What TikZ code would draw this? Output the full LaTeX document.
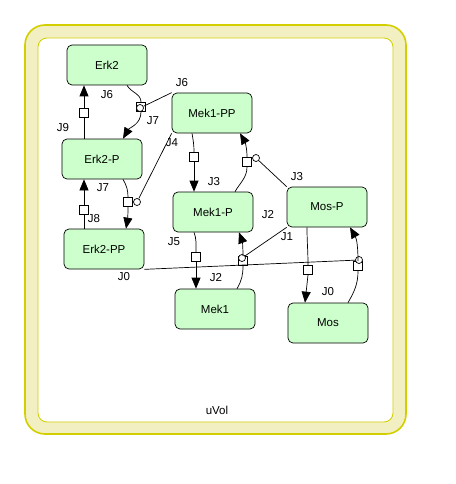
\documentclass[tikz,border=0pt]{standalone}
\usepackage{fontspec}
\setsansfont{Liberation Sans}
\usetikzlibrary{arrows.meta}
\definecolor{specfill}{HTML}{CCFFCC}
\definecolor{volfill}{HTML}{F2F0C2}
\definecolor{voldraw}{HTML}{D2CE00}
\begin{document}
\begin{tikzpicture}[x=1pt, y=-1pt, font=\sffamily\fontsize{11.5}{13}\selectfont,
	species/.style={draw, line width=.7pt, fill=specfill, rounded corners=5pt, minimum width=80pt, minimum height=40pt, inner sep=0pt},
	react/.style={draw, line width=.7pt, fill=white, minimum size=9pt, inner sep=0pt},
	modif/.style={draw, line width=.7pt, fill=white, circle, minimum size=7pt, inner sep=0pt},
	flow/.style={line width=.7pt},
	prod/.style={flow, -{Triangle[length=11pt,width=9pt]}}]
	\useasboundingbox (0,0) rectangle (455,484);
	%volume
	\draw[voldraw, line width=1.6pt, fill=volfill, rounded corners=20pt] (25,25) rectangle (406,434);
	\draw[voldraw, line width=.8pt, fill=white, rounded corners=9pt] (38,38) rectangle (393,422);
	\node (uvol) at (217,410) {uVol};
	%species
	\foreach \n/\t/\x/\y in {erk2/Erk2/107/65, mek1pp/Mek1-PP/212/113, erk2p/Erk2-P/102/159,
		erk2pp/Erk2-PP/104/249, mek1p/Mek1-P/213/212, mek1/Mek1/215/309,
		mosp/Mos-P/327/207, mos/Mos/328/323}
	\node[species] (\n) at (\x,\y) {\t};
	%reactions
	\foreach \n/\x/\y in {r9/84/113, r6/141/107, r4/128/202, r8/84/210, r3/194/157,
		r2/247/162, r5/196/257, r1/243/261, r0/358/266, rm/308/270}
	\node[react] (\n) at (\x,\y) {};
	%modifiers
	\foreach \n/\x/\y in {m6/140/108, m4/137/202, m2/256/158, m1/242/258, m0/359/260}
	\node[modif] (\n) at (\x,\y) {};
	%edges
	\draw[flow] (erk2p.north -| r9) -- (r9.south);
	\draw[prod] (r9.north) -- (erk2.south -| r9);
	\draw[flow] ([xshift=20pt]erk2.south) to[out=-60,in=90] (r6.north);
	\draw[prod] (r6.south) to[out=-90,in=60] ([xshift=21pt]erk2p.north);
	\draw[flow] ([xshift=21pt]erk2p.south) to[out=-60,in=90] (r4.north);
	\draw[prod] (r4.south) to[out=-90,in=80] ([xshift=22pt]erk2pp.north);
	\draw[flow] (erk2pp.north -| r8) -- (r8.south);
	\draw[prod] (r8.north) -- (erk2p.south -| r8);
	\draw[flow] ([xshift=-20pt]mek1pp.south) to[out=-80,in=90] (r3.north);
	\draw[prod] (r3.south) -- (mek1p.north -| r3);
	\draw[flow] ([xshift=22pt]mek1p.north) to[out=60,in=-90] (r2.south);
	\draw[prod] (r2.north) to[out=90,in=-60] ([xshift=28pt]mek1pp.south);
	\draw[flow] ([xshift=-19pt]mek1p.south) to[out=-70,in=90] (r5.north);
	\draw[prod] (r5.south) -- (mek1.north -| r5);
	\draw[flow] ([xshift=22pt]mek1.north) to[out=60,in=-90] (r1.south);
	\draw[prod] (r1.north) to[out=90,in=-70] ([xshift=26pt]mek1p.south);
	\draw[flow] ([xshift=20pt]mos.north) to[out=60,in=-90] (r0.south);
	\draw[prod] (r0.north) to[out=90,in=-60] ([xshift=23pt]mosp.south);
	\draw[flow] ([xshift=-20pt]mosp.south) to[out=-90,in=90] (rm.north);
	\draw[prod] (rm.south) -- ([xshift=-23pt]mos.north);
	%catalysis
	\draw[flow] (m6) -- (mek1pp.north west);
	\draw[flow] (m4) -- (mek1pp.south west);
	\draw[flow] (m2) -- (mosp.north west);
	\draw[flow] (m1) -- (mosp.south west);
	\draw[flow] (m0) -- (erk2pp.south east);
	%labels
	\foreach \n/\t/\x/\y in {la/J6/107/95, lb/J6/182/83, lc/J7/153/121, ld/J9/63/128,
		le/J4/172/143, lf/J3/214/182, lg/J7/103/188, lh/J8/94/219, li/J2/268/215,
		lj/J5/174/242, lk/J0/124/277, ll/J2/216/278, lm/J3/297/177, ln/J1/287/237,
		lo/J0/328/292}
	\node[inner sep=0pt] (\n) at (\x,\y) {\t};
\end{tikzpicture}
\end{document}
